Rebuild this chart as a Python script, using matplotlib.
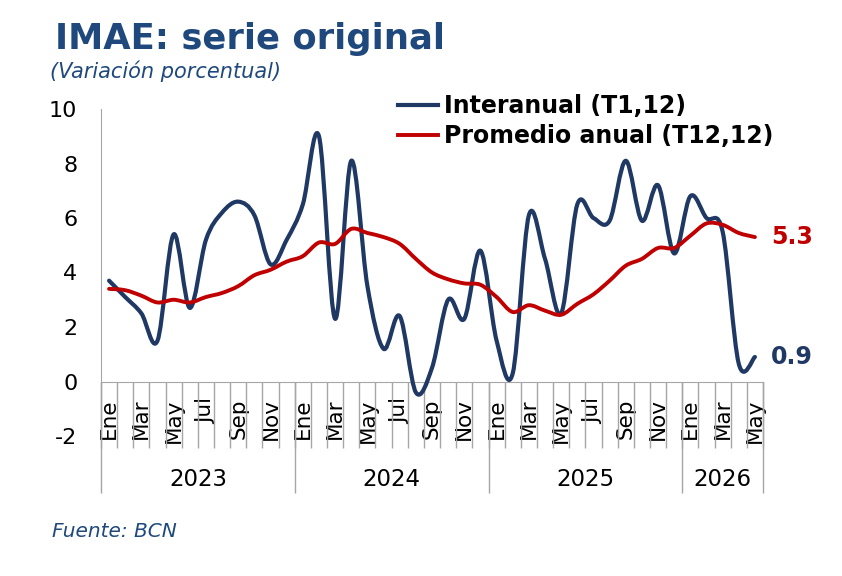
import matplotlib.pyplot as plt
import numpy as np
from matplotlib.path import Path
from matplotlib.patches import PathPatch
from matplotlib.lines import Line2D

plt.rcParams["axes.unicode_minus"] = False

# datos (variacion porcentual)
years = ["2023", "2024", "2025", "2026"]
months_per_year = [12, 12, 12, 5]
month_names = ["Ene", "Feb", "Mar", "Abr", "May", "Jun",
               "Jul", "Ago", "Sep", "Oct", "Nov", "Dic"]

interanual = [3.7, 3.1, 2.5, 1.5, 5.4, 2.7, 5.2, 6.2, 6.6, 6.1, 4.3, 5.2,
              6.5, 9.0, 2.3, 8.1, 3.5, 1.2, 2.4, -0.4, 0.5, 3.0, 2.3, 4.8,
              1.5, 0.3, 6.1, 4.5, 2.5, 6.5, 6.0, 5.9, 8.1, 5.9, 7.2, 4.7,
              6.8, 6.0, 5.5, 0.65, 0.9]
promedio = [3.4, 3.35, 3.15, 2.9, 3.0, 2.9, 3.1, 3.25, 3.5, 3.9, 4.1, 4.4,
            4.6, 5.1, 5.05, 5.6, 5.45, 5.3, 5.05, 4.5, 4.0, 3.75, 3.6, 3.55,
            3.1, 2.55, 2.8, 2.6, 2.45, 2.85, 3.2, 3.7, 4.25, 4.5, 4.9, 4.9,
            5.35, 5.8, 5.75, 5.45, 5.3]

navy = "#1F3864"
red = "#C00000"
title_col = "#1F497D"
grey = "#A6A6A6"


def smooth_path(x, y):
    # curva suavizada tipo Excel (Catmull-Rom como Bezier)
    pts = np.column_stack([x, y]).astype(float)
    verts = [pts[0]]
    codes = [Path.MOVETO]
    n = len(pts)
    for i in range(n - 1):
        p0 = pts[i - 1] if i > 0 else pts[i]
        p1 = pts[i]
        p2 = pts[i + 1]
        p3 = pts[i + 2] if i + 2 < n else pts[i + 1]
        c1 = p1 + (p2 - p0) / 6.0
        c2 = p2 - (p3 - p1) / 6.0
        verts += [c1, c2, p2]
        codes += [Path.CURVE4] * 3
    return Path(verts, codes)


labels = []
for y, m in zip(years, months_per_year):
    labels += month_names[:m]
x = np.arange(len(labels))

fig = plt.figure(figsize=(8.42, 5.76), dpi=100)
ax = fig.add_axes([101 / 842, 1 - 436 / 576, 662 / 842, 327 / 576])

ax.add_patch(PathPatch(smooth_path(x, interanual), fill=False, ec=navy,
                       lw=3.0, capstyle="round", joinstyle="round", zorder=3))
ax.add_patch(PathPatch(smooth_path(x, promedio), fill=False, ec=red,
                       lw=2.8, capstyle="round", joinstyle="round", zorder=4))

ax.set_xlim(-0.5, len(labels) - 0.5)
ax.set_ylim(-2, 10)
ax.set_yticks(np.arange(-2, 11, 2))
ax.tick_params(axis="y", length=0, pad=17, labelsize=16)

for s in ["top", "right"]:
    ax.spines[s].set_visible(False)
ax.spines["left"].set_bounds(0, 10)
ax.spines["left"].set_color(grey)
ax.spines["bottom"].set_position(("data", 0))
ax.spines["bottom"].set_color(grey)

# etiquetas de meses cada dos
ax.set_xticks(x[::2])
ax.set_xticklabels(labels[::2], rotation=90, fontsize=15.5)
ax.set_xticks(np.arange(-0.5, len(labels), 1), minor=True)
ax.tick_params(axis="x", which="major", length=0, pad=12)
ax.tick_params(axis="x", which="minor", length=47.5, color=grey, width=1)

# separadores de anio
bounds = np.concatenate([[0], np.cumsum(months_per_year)]) - 0.5
ax.vlines(bounds, -4.11, 0, color=grey, lw=1, clip_on=False)
for i, yr in enumerate(years):
    ax.text((bounds[i] + bounds[i + 1]) / 2, -3.58, yr, ha="center",
            va="center", fontsize=16.5)

# valores finales
ax.annotate(f"{promedio[-1]:.1f}", xy=(x[-1], promedio[-1]), xytext=(11.5, 0),
            textcoords="offset points", va="center", color=red,
            fontsize=17, fontweight="bold")
ax.annotate(f"{interanual[-1]:.1f}", xy=(x[-1], interanual[-1]), xytext=(11.5, 0),
            textcoords="offset points", va="center", color=navy,
            fontsize=17, fontweight="bold")

handles = [Line2D([], [], color=navy, lw=3.0),
           Line2D([], [], color=red, lw=2.8)]
fig.legend(handles, ["Interanual (T1,12)", "Promedio anual (T12,12)"],
           loc="upper left", bbox_to_anchor=(398 / 842, 1 - 94 / 576),
           frameon=False, borderpad=0, borderaxespad=0, handlelength=1.7,
           handletextpad=0.25, labelspacing=0.25,
           prop={"size": 17, "weight": "bold"})

fig.text(55 / 842, 1 - 49 / 576, "IMAE: serie original", color=title_col,
         fontsize=25.5, fontweight="bold", va="baseline")
fig.text(50 / 842, 1 - 78 / 576, "(Variación porcentual)", color=title_col,
         fontsize=15, style="italic", va="baseline")
fig.text(52 / 842, 1 - 537 / 576, "Fuente: BCN", color=title_col,
         fontsize=14.5, style="italic", va="baseline")

fig.savefig("out.png", dpi=100)
